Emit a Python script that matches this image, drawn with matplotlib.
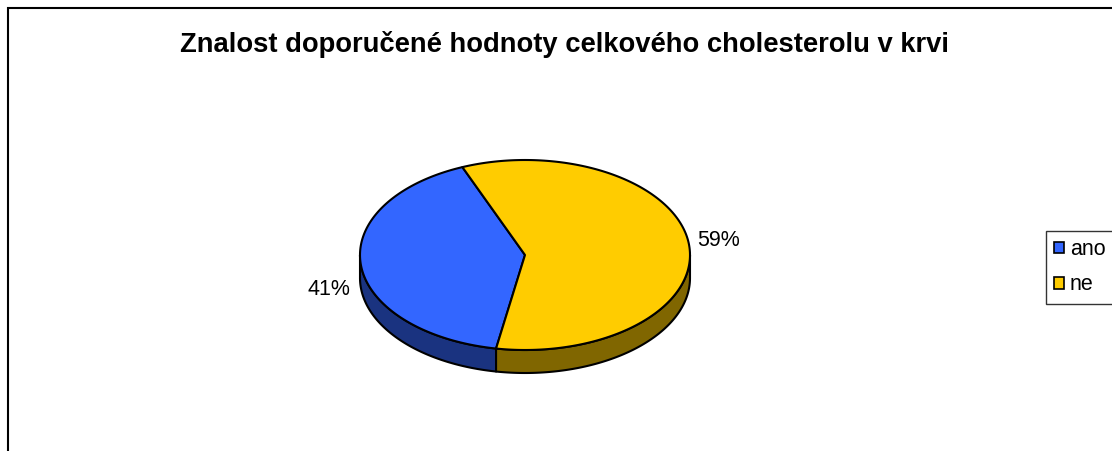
import numpy as np
import matplotlib
matplotlib.use("Agg")
import matplotlib.pyplot as plt
from matplotlib.patches import Polygon, Rectangle, Patch

title = "Znalost doporučené hodnoty celkového cholesterolu v krvi"
categories = ["ano", "ne"]
values = [41, 59]
labels = ["41%", "59%"]
top_colors = ["#3366FF", "#FFCC00"]
side_colors = ["#1A3380", "#806600"]

W, H = 1112, 451
fig = plt.figure(figsize=(W / 100, H / 100), dpi=100)
fig.patch.set_facecolor("white")

# pie geometry in pixels
cx, cy, rx, ry, depth = 525, 255, 165, 95, 23
ax = fig.add_axes([0, 0, 1, 1])
ax.set_xlim(-cx / rx, (W - cx) / rx)
ax.set_ylim((cy - H) / ry, cy / ry)
ax.axis("off")
d = depth / ry

start = 112.3
fracs = np.array(values, dtype=float) / np.sum(values)
angles = start + 360 * np.concatenate([[0], np.cumsum(fracs)])

def arc(t0, t1, n=200):
    t = np.radians(np.linspace(t0, t1, n))
    return np.cos(t), np.sin(t)

# side walls (visible part: 180..360 deg)
for i in range(len(values)):
    a0, a1 = angles[i], angles[i + 1]
    for k in range(-1, 3):
        lo = max(a0, 180 + 360 * k)
        hi = min(a1, 360 + 360 * k)
        if hi > lo:
            x, y = arc(lo, hi)
            pts = np.vstack([np.column_stack([x, y]),
                             np.column_stack([x[::-1], y[::-1] - d])])
            ax.add_patch(Polygon(pts, closed=True, facecolor=side_colors[i],
                                 edgecolor="black", lw=1.5, joinstyle="round"))

# top faces
for i in range(len(values)):
    x, y = arc(angles[i], angles[i + 1])
    pts = np.vstack([[0, 0], np.column_stack([x, y])])
    ax.add_patch(Polygon(pts, closed=True, facecolor=top_colors[i],
                         edgecolor="black", lw=1.5, joinstyle="round"))

# labels
for i in range(len(values)):
    mid = np.radians((angles[i] + angles[i + 1]) / 2)
    lx, ly = np.cos(mid), np.sin(mid)
    if lx > 0:
        ax.text(lx * 1.048, ly + 0.05, labels[i], ha="left", va="center",
                fontsize=15.5, family="Liberation Sans")
    else:
        ax.text(lx * 1.067, ly - 0.26, labels[i], ha="right", va="center",
                fontsize=15.5, family="Liberation Sans")

fig.text(564 / W, 1 - 45 / H, title, ha="center", va="center",
         fontsize=19.7, fontweight="bold", family="Liberation Sans")

# figure border
fig.patches.append(Rectangle((8 / W, -0.2), 1.5, 1 - 8 / H + 0.2,
                             transform=fig.transFigure, fill=False,
                             edgecolor="black", lw=1.5))

handles = [Patch(facecolor=c, edgecolor="black", lw=1.2) for c in top_colors]
leg = fig.legend(handles, categories, loc="upper left",
                 bbox_to_anchor=(1046 / W, 1 - 231 / H),
                 prop={"family": "Liberation Sans", "size": 15.5},
                 frameon=True, fancybox=False, edgecolor="black",
                 handlelength=0.47, handleheight=0.47, handletextpad=0.25,
                 borderpad=0.38, labelspacing=0.66, borderaxespad=0)
leg.get_frame().set_linewidth(1.0)

fig.savefig("out.png", dpi=100)
